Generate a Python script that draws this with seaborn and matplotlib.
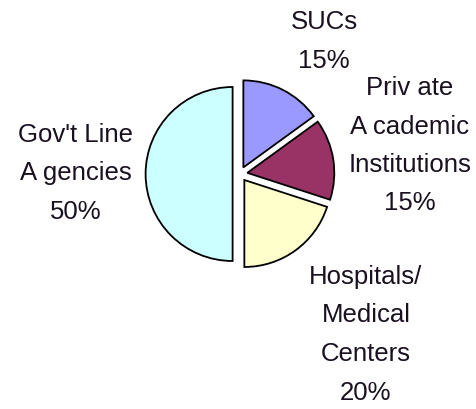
import matplotlib
matplotlib.use("Agg")
import matplotlib.pyplot as plt
import seaborn as sns

# slice data, clockwise from 12 o'clock
sectors = ["SUCs", "Private Academic Institutions", "Hospitals/ Medical Centers", "Gov't Line Agencies"]
shares = [15, 15, 20, 50]
colors = ["#9999FF", "#993366", "#FFFFCC", "#CCFFFF"]

# label text lines per slice (as drawn in the original)
label_lines = [
    ["SUCs", "15%"],
    ["Priv ate", "A cademic", "Institutions", "15%"],
    ["Hospitals/", "Medical", "Centers", "20%"],
    ["Gov't Line", "A gencies", "50%"],
]

sns.set_theme(style="white")
plt.rcParams["font.family"] = ["Liberation Sans", "DejaVu Sans"]

W, H = 477, 409
fig = plt.figure(figsize=(W / 100, H / 100), dpi=100)
ax = fig.add_axes([0, 0, 1, 1])

cx, cy, r = 240, H - 174, 87
# matplotlib's explode is in data units, so scale by the radius
ax.pie(shares, colors=colors, startangle=90, counterclock=False,
       explode=[0.085 * r] * len(shares), center=(cx, cy), radius=r,
       wedgeprops=dict(edgecolor="black", linewidth=1.3))

# label block anchors (x centre, y of first line in image pixels)
anchors = [(324, 22), (410, 88), (366, 277), (76, 135)]
step = 38.5
for lines, (x, y0) in zip(label_lines, anchors):
    for i, line in enumerate(lines):
        ax.text(x, H - (y0 + i * step), line, ha="center", va="center",
                fontsize=18.5, color="#1a1020")

ax.set_xlim(0, W)
ax.set_ylim(0, H)
ax.set_axis_off()
fig.savefig("out.png", dpi=100)
